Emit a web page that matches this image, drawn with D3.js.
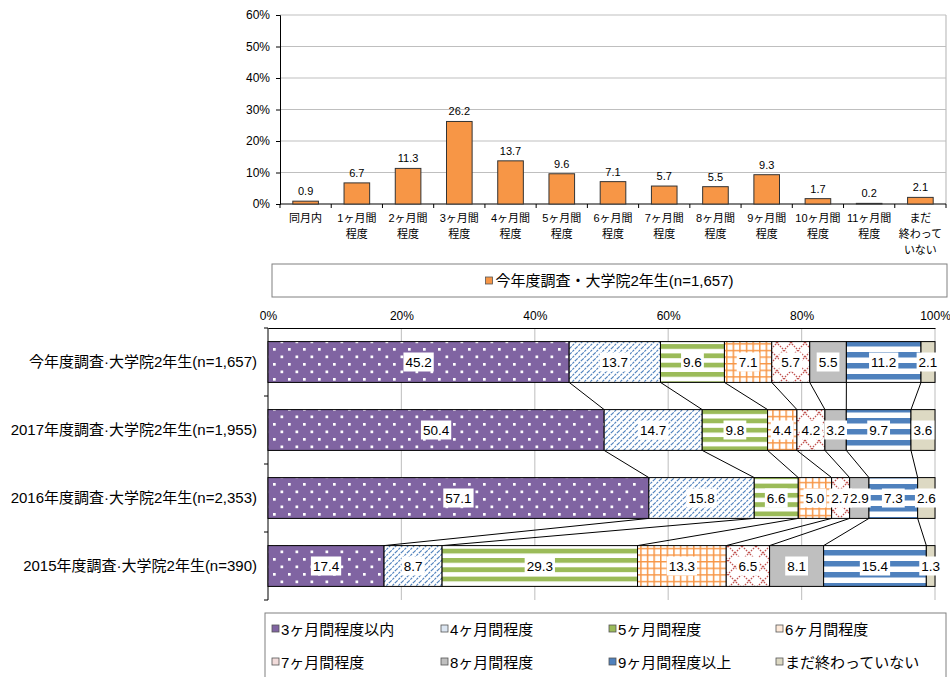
<!DOCTYPE html>
<html><head><meta charset="utf-8">
<script src="https://cdn.jsdelivr.net/npm/d3@7"></script>
<style>
body{margin:0;background:#fff;}
svg{display:block;font-family:"Liberation Sans","Noto Sans CJK JP",sans-serif;}
</style></head><body>
<svg id="chart" width="950" height="677"></svg>
<script>
// ---- data: top chart ----
const topCategories = ["同月内","1ヶ月間\n程度","2ヶ月間\n程度","3ヶ月間\n程度","4ヶ月間\n程度","5ヶ月間\n程度","6ヶ月間\n程度","7ヶ月間\n程度","8ヶ月間\n程度","9ヶ月間\n程度","10ヶ月間\n程度","11ヶ月間\n程度","まだ\n終わって\nいない"];
const topValues = [0.9,6.7,11.3,26.2,13.7,9.6,7.1,5.7,5.5,9.3,1.7,0.2,2.1];
const topSeriesName = "今年度調査・大学院2年生(n=1,657)";
const topTicks = [0,10,20,30,40,50,60];

// ---- data: bottom chart ----
const surveys = ["今年度調査·大学院2年生(n=1,657)","2017年度調査·大学院2年生(n=1,955)","2016年度調査·大学院2年生(n=2,353)","2015年度調査·大学院2年生(n=390)"];
const periods = ["3ヶ月間程度以内","4ヶ月間程度","5ヶ月間程度","6ヶ月間程度","7ヶ月間程度","8ヶ月間程度","9ヶ月間程度以上","まだ終わっていない"];
const valsThisYear = [45.2,13.7,9.6,7.1,5.7,5.5,11.2,2.1];
const vals2017 = [50.4,14.7,9.8,4.4,4.2,3.2,9.7,3.6];
const vals2016 = [57.1,15.8,6.6,5.0,2.7,2.9,7.3,2.6];
const vals2015 = [17.4,8.7,29.3,13.3,6.5,8.1,15.4,1.3];
const shareTicks = [0,20,40,60,80,100];

const svg = d3.select("#chart");
const defs = svg.append("defs");
function pat(id,w,h,bg){
  const p = defs.append("pattern").attr("id",id).attr("patternUnits","userSpaceOnUse").attr("width",w).attr("height",h);
  p.append("rect").attr("width",w).attr("height",h).attr("fill",bg);
  return p;
}
let p;
p = pat("p0",15,15,"#8064A2");
p.append("rect").attr("x",3).attr("y",3).attr("width",2.7).attr("height",2.7).attr("fill","#fff");
p.append("rect").attr("x",10.5).attr("y",10.5).attr("width",2.7).attr("height",2.7).attr("fill","#fff");
p = pat("p1",6,6,"#fff");
p.append("path").attr("d","M0,6 L6,0 M-1,1 L1,-1 M5,7 L7,5").attr("stroke","#4F81BD").attr("stroke-width",1.2).attr("stroke-dasharray","2.4,1");
p = pat("p2",10,9.3,"#fff");
p.append("rect").attr("width",10).attr("height",4.8).attr("fill","#9BBB59");
p = pat("p3",6.6,6.6,"#fff");
p.append("path").attr("d","M0.75,0 V6.6 M0,0.75 H6.6").attr("stroke","#F79646").attr("stroke-width",1.5);
p = pat("p4",14,14,"#fff");
p.append("path").attr("d","M0,0 L14,14 M14,0 L0,14").attr("stroke","#C0504D").attr("stroke-width",1.3).attr("stroke-dasharray","1.6,1.2");
p = pat("p6",10,11,"#fff");
p.append("rect").attr("width",10).attr("height",5.5).attr("fill","#4F81BD");
const fills = ["url(#p0)","url(#p1)","url(#p2)","url(#p3)","url(#p4)","#BFBFBF","url(#p6)","#DDD9C3"];
const legendFills = ["#8064A2","#DCE6F2","#9BBB59","#FDE9D9","#F2DCDB","#BFBFBF","#4F81BD","#DDD9C3"];

// ================= TOP CHART =================
const tx = d3.scaleBand().domain(topCategories).range([280,946]).paddingInner(0.5).paddingOuter(0.25);
const ty = d3.scaleLinear().domain([0,60]).range([204,15]);
const topG = svg.append("g");
topG.selectAll("line.grid").data(topTicks.filter(d=>d>0)).join("line")
  .attr("x1",280).attr("x2",946).attr("y1",d=>ty(d)).attr("y2",d=>ty(d))
  .attr("stroke","#BFBFBF").attr("stroke-width",1.2);
topG.append("line").attr("x1",946).attr("x2",946).attr("y1",ty(60)).attr("y2",ty(0)).attr("stroke","#BFBFBF").attr("stroke-width",1.2);
const yAx = topG.append("g").attr("transform","translate(280,0)")
  .call(d3.axisLeft(ty).tickValues(topTicks).tickFormat(d=>d+"%").tickSize(4).tickPadding(6));
yAx.select(".domain").attr("stroke","#000");
yAx.selectAll(".tick line").attr("stroke","#000");
yAx.selectAll("text").attr("font-size",12).attr("fill","#000").attr("font-family","Liberation Sans");
topG.append("line").attr("x1",280).attr("x2",946).attr("y1",ty(0)).attr("y2",ty(0)).attr("stroke","#000");
const step = tx.step();
topG.selectAll("line.xt").data(d3.range(topCategories.length+1)).join("line")
  .attr("x1",i=>280+i*step).attr("x2",i=>280+i*step).attr("y1",ty(0)).attr("y2",ty(0)+4).attr("stroke","#000");
topG.selectAll("rect.bar").data(topValues).join("rect")
  .attr("x",(d,i)=>tx(topCategories[i])).attr("width",tx.bandwidth())
  .attr("y",d=>ty(d)).attr("height",d=>ty(0)-ty(d))
  .attr("fill","#F79646").attr("stroke","#333").attr("stroke-width",1);
topG.selectAll("text.val").data(topValues).join("text")
  .attr("x",(d,i)=>tx(topCategories[i])+tx.bandwidth()/2).attr("y",d=>ty(d)-6)
  .attr("text-anchor","middle").attr("font-size",11).attr("fill","#000")
  .text(d=>d.toFixed(1));
topCategories.forEach((c,i)=>{
  const t = topG.append("text").attr("text-anchor","middle").attr("font-size",11).attr("fill","#000");
  c.split("\n").forEach((ln,j)=>{
    t.append("tspan").attr("x",tx(c)+tx.bandwidth()/2).attr("y",222+j*16).text(ln);
  });
});
svg.append("rect").attr("x",272).attr("y",264).attr("width",675).attr("height",33).attr("fill","#fff").attr("stroke","#808080").attr("stroke-width",1);
const tl = svg.append("g");
const tlText = tl.append("text").attr("y",286).attr("font-size",15).attr("fill","#000").text(topSeriesName);
const tlw = tlText.node().getComputedTextLength();
const tlx = 609.5 - (tlw+10)/2;
tl.append("rect").attr("x",tlx).attr("y",277).attr("width",7).attr("height",7).attr("fill","#F79646").attr("stroke","#555").attr("stroke-width",0.8);
tlText.attr("x",tlx+10);

// ================= BOTTOM CHART =================
const allVals = [valsThisYear,vals2017,vals2016,vals2015];
const bx = d3.scaleLinear().domain([0,100]).range([268,935]);
const by = d3.scaleBand().domain(surveys).range([328,600]).paddingInner(0.4).paddingOuter(0.2);
const stacks = allVals.map(v=>{
  const tot = d3.sum(v);
  let c = 0;
  return v.map(d=>{ const s=c/tot*100; c+=d; return [s,c/tot*100,d]; });
});
const bg = svg.append("g");
bg.selectAll("line.vg").data(shareTicks.filter(d=>d>0)).join("line")
  .attr("x1",d=>bx(d)).attr("x2",d=>bx(d)).attr("y1",328).attr("y2",600)
  .attr("stroke","#C8C8C8").attr("stroke-width",1.2);
const xAx = bg.append("g").attr("transform","translate(0,328)")
  .call(d3.axisTop(bx).tickValues(shareTicks).tickFormat(d=>d+"%").tickSize(0).tickPadding(8));
xAx.select(".domain").attr("stroke","#000");
xAx.selectAll("text").attr("font-size",12).attr("fill","#000").attr("font-family","Liberation Sans");
bg.append("line").attr("x1",268).attr("x2",268).attr("y1",328).attr("y2",600).attr("stroke","#000");
bg.selectAll("line.lt").data(d3.range(surveys.length+1)).join("line")
  .attr("x1",264).attr("x2",268).attr("y1",i=>328+i*by.step()).attr("y2",i=>328+i*by.step()).attr("stroke","#000");
for(let i=0;i<surveys.length-1;i++){
  for(let k=0;k<periods.length-1;k++){
    bg.append("line")
      .attr("x1",bx(stacks[i][k][1])).attr("y1",by(surveys[i])+by.bandwidth())
      .attr("x2",bx(stacks[i+1][k][1])).attr("y2",by(surveys[i+1]))
      .attr("stroke","#000").attr("stroke-width",1);
  }
}
surveys.forEach((s,i)=>{
  bg.selectAll(null).data(stacks[i]).join("rect")
    .attr("x",d=>bx(d[0])).attr("width",d=>bx(d[1])-bx(d[0]))
    .attr("y",by(s)).attr("height",by.bandwidth())
    .attr("fill",(d,k)=>fills[k]).attr("stroke","#000").attr("stroke-width",1);
});
surveys.forEach((s,i)=>{
  stacks[i].forEach((d,k)=>{
    const cx = (bx(d[0])+bx(d[1]))/2, cy = by(s)+by.bandwidth()/2;
    const g = bg.append("g");
    const r = g.append("rect").attr("fill","#fff");
    const t = g.append("text").attr("x",cx).attr("y",cy+5).attr("text-anchor","middle").attr("font-size",13.5).attr("fill","#000").text(d[2].toFixed(1));
    const w = t.node().getComputedTextLength();
    r.attr("x",cx-w/2-2).attr("y",cy-9.5).attr("width",w+4).attr("height",19);
  });
});
bg.selectAll("text.cat").data(surveys).join("text")
  .attr("x",257).attr("y",d=>by(d)+by.bandwidth()/2+5).attr("text-anchor","end")
  .attr("font-size",15).attr("fill","#000").text(d=>d);

svg.append("rect").attr("x",265).attr("y",613).attr("width",681).attr("height",80).attr("fill","#fff").attr("stroke","#808080").attr("stroke-width",1);
const colX = [272,441,609,776];
periods.forEach((pname,k)=>{
  const x = colX[k%4], y = k<4 ? 629 : 662;
  svg.append("rect").attr("x",x).attr("y",y-4).attr("width",7).attr("height",7).attr("fill",legendFills[k]).attr("stroke","#555").attr("stroke-width",0.8);
  svg.append("text").attr("x",x+9).attr("y",y+5.5).attr("font-size",15).attr("fill","#000").text(pname);
});
</script>
</body></html>
